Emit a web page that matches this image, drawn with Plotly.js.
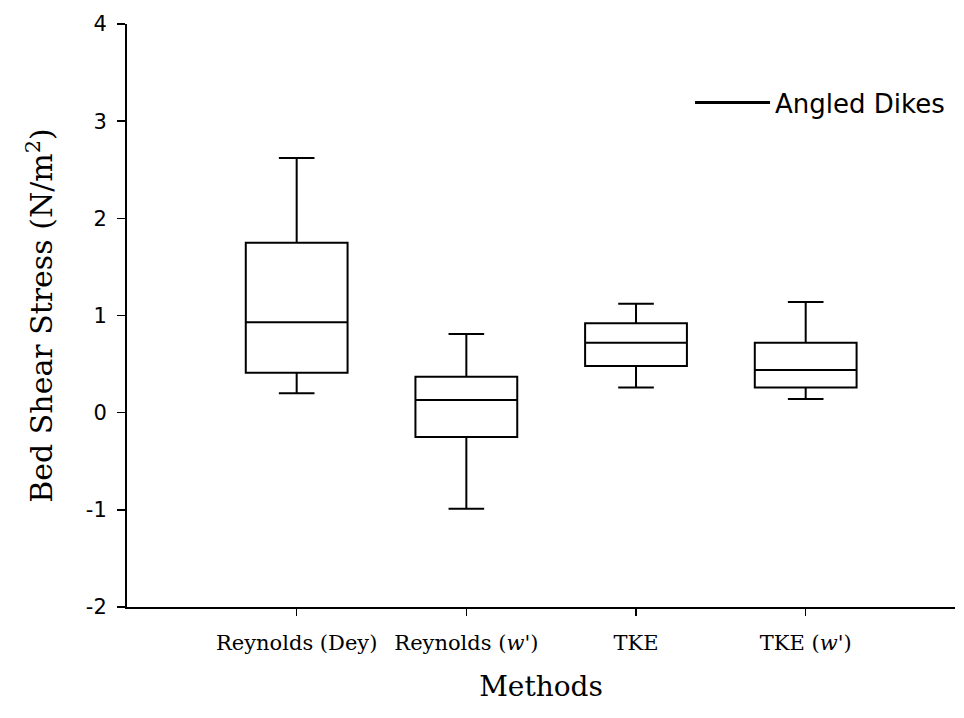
<!DOCTYPE html>
<html>
<head>
<meta charset="utf-8">
<script src="https://cdn.plot.ly/plotly-3.0.1.min.js"></script>
<style>html,body{margin:0;padding:0;background:#fff;}#chart{width:964px;height:718px;}</style>
</head>
<body>
<div id="chart"></div>
<script>
// Categories (methods)
var methods = ["Reynolds (Dey)", "Reynolds (<i>w'</i>)", "TKE", "TKE (<i>w'</i>)"];
// Box statistics (N/m^2)
var lowerWhisker = [0.20, -0.99, 0.26, 0.14];
var q1Values     = [0.41, -0.25, 0.48, 0.26];
var medianValues = [0.93,  0.13, 0.72, 0.44];
var q3Values     = [1.75,  0.37, 0.92, 0.72];
var upperWhisker = [2.62,  0.81, 1.12, 1.14];
var yTicks = [-2, -1, 0, 1, 2, 3, 4];
var seriesName = "Angled Dikes";

var boxTrace = {
  type: "box",
  x: methods,
  q1: q1Values,
  median: medianValues,
  q3: q3Values,
  lowerfence: lowerWhisker,
  upperfence: upperWhisker,
  boxpoints: false,
  width: 0.6,
  whiskerwidth: 0.35,
  fillcolor: "#ffffff",
  line: {color: "#000000", width: 2},
  showlegend: false,
  hoverinfo: "skip"
};

var legendTrace = {
  type: "scatter",
  mode: "lines",
  x: [null],
  y: [null],
  name: seriesName,
  line: {color: "#000000", width: 3},
  showlegend: true
};

var layout = {
  width: 964,
  height: 718,
  margin: {l: 127, r: 9, t: 24, b: 111, autoexpand: false},
  paper_bgcolor: "#ffffff",
  plot_bgcolor: "#ffffff",
  showlegend: true,
  legend: {
    x: 0.68, y: 0.865, xanchor: "left", yanchor: "middle",
    bgcolor: "rgba(0,0,0,0)",
    font: {family: "DejaVu Sans", size: 26, color: "#000"},
    itemwidth: 75
  },
  xaxis: {
    type: "category",
    range: [-1, 3.88],
    showline: true,
    linecolor: "#000",
    linewidth: 2,
    ticks: "outside",
    ticklen: 7,
    tickwidth: 1.5,
    tickcolor: "#000",
    showgrid: false,
    zeroline: false,
    automargin: false,
    ticklabelstandoff: 9,
    tickfont: {family: "DejaVu Serif", size: 21, color: "#000"},
    title: {text: "Methods", font: {family: "DejaVu Serif", size: 28, color: "#000"}, standoff: 22}
  },
  yaxis: {
    range: [-2, 4],
    tickvals: yTicks,
    ticktext: yTicks.map(String),
    showline: true,
    linecolor: "#000",
    linewidth: 2,
    ticks: "outside",
    ticklen: 8,
    tickwidth: 1.5,
    tickcolor: "#000",
    showgrid: false,
    zeroline: false,
    automargin: false,
    ticklabelstandoff: 6,
    tickfont: {family: "DejaVu Sans", size: 21, color: "#000"},
    title: {text: "Bed Shear Stress (N/m<sup>2</sup>)", font: {family: "DejaVu Serif", size: 30, color: "#000"}, standoff: 24}
  }
};

Plotly.newPlot("chart", [boxTrace, legendTrace], layout, {displayModeBar: false, staticPlot: true});
</script>
</body>
</html>
